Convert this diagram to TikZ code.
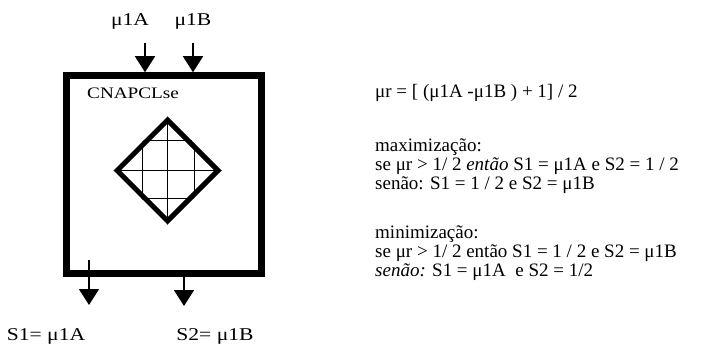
\documentclass[tikz,border=0pt]{standalone}
\usepackage{fontspec}
\setmainfont{Liberation Serif}
\newfontfamily\widefont{Liberation Serif}[FakeStretch=1.2]
\usetikzlibrary{arrows.meta,positioning,shapes.geometric}

\begin{document}
\begin{tikzpicture}[x=1pt, y=-1pt,
  cellbox/.style={draw, line width=7pt, minimum width=195pt, minimum height=198pt, inner sep=0pt},
  core/.style={draw, diamond, aspect=1, line width=5pt, minimum width=103pt, minimum height=103pt, inner sep=0pt},
  wire/.style={line width=1.6pt, -{Triangle[width=20pt,length=16pt]}},
  lbl/.style={anchor=base, inner sep=0pt, font=\widefont\fontsize{18}{18}\selectfont},
  txt/.style={anchor=base west, inner sep=0pt, text height=10pt, text depth=2pt, font=\fontsize{19}{19}\selectfont}
]
\useasboundingbox (0,0) rectangle (706,345);

% the cell and its core
\node[cellbox] (cell) at (163.5,174.75) {};
\node[anchor=base west, inner sep=0pt, font=\widefont\fontsize{16}{16}\selectfont] (name) at (87,98) {CNAPCLse};
\node[core] (core) at (167.5,170.5) {};
\begin{scope}
  \clip (core.north) -- (core.east) -- (core.south) -- (core.west) -- cycle;
  \foreach \dx in {-25,0,27}
    \draw[line width=1.5pt] (core.center) ++(\dx,-60) -- ++(0,120);
  \foreach \dy in {-30,0,28}
    \draw[line width=1.5pt] (core.center) ++(-60,\dy) -- ++(120,0);
\end{scope}

% inputs
\node[lbl] (muA) at (130,26) {μ1A};
\node[lbl] (muB) at (193,26) {μ1B};
\coordinate (inA) at (145,43);
\coordinate (inB) at (193,43);
\draw[wire] (inA) -- (inA |- cell.north);
\draw[wire] (inB) -- (inB |- cell.north);

% outputs
\coordinate (outA) at (89,260);
\coordinate (endA) at (89,305);
\coordinate (endB) at (184,306);
\draw[wire] (outA) -- (endA);
\draw[wire] (endB |- cell.south) -- (endB);
\node[lbl] (s1) at (46,340) {S1= μ1A};
\node[lbl] (s2) at (215,340) {S2= μ1B};

% rules
\node[txt] (rule) at (375,97) {μr = [ (μ1A -μ1B ) + 1] / 2};
\node[txt] (maxHead) at (375,151) {maximização:};
\node[txt] (maxIf) at (375,170) {se μr > 1/ 2 \textit{então} S1 = μ1A e S2 = 1 / 2};
\node[txt] (maxElse) at (375,189) {senão: S1 = 1 / 2 e S2 = μ1B};
\node[txt] (minHead) at (375,238) {minimização:};
\node[txt] (minIf) at (375,257) {se μr > 1/ 2 então S1 = 1 / 2 e S2 = μ1B};
\node[txt] (minElse) at (375,276) {\textit{senão:} S1 = μ1A\ \ e S2 = 1/2};
\end{tikzpicture}
\end{document}
